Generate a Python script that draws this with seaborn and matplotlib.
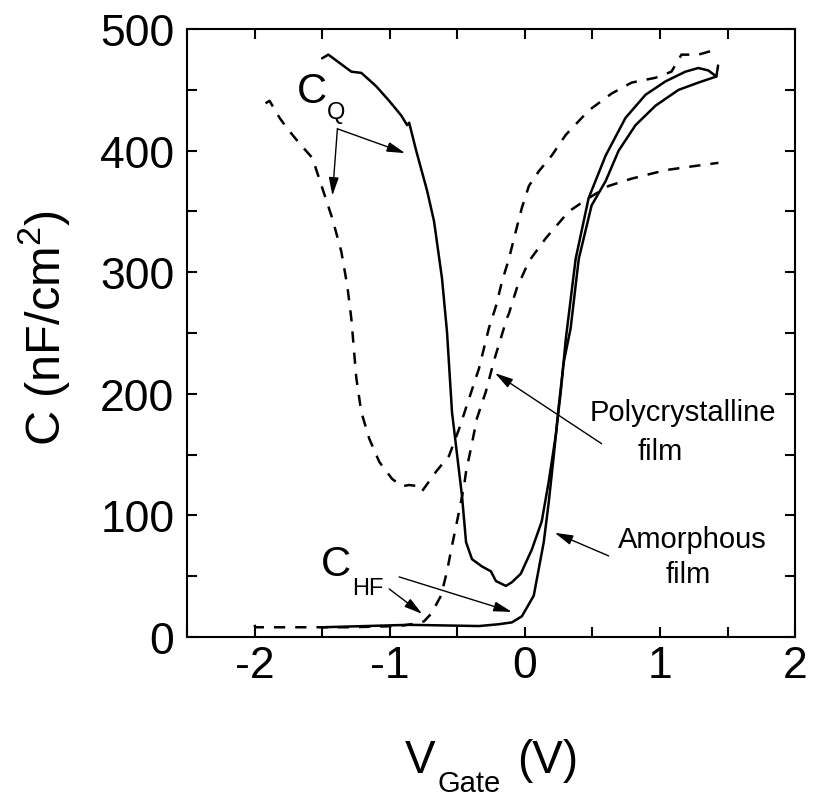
import matplotlib
matplotlib.use("Agg")
import matplotlib.pyplot as plt
from matplotlib.ticker import MultipleLocator
import pandas as pd
import seaborn as sns

# amorphous film, quasi-static C_Q (solid)
amor_q_v = [-1.50, -1.454, -1.284, -1.21, -1.10, -1.004, -0.915, -0.871, -0.856, -0.804,
            -0.723, -0.672, -0.613, -0.576, -0.539, -0.465, -0.435, -0.391, -0.317, -0.251,
            -0.214, -0.14, -0.096, -0.03, 0.052, 0.125, 0.177, 0.229, 0.266, 0.303,
            0.376, 0.472, 0.598, 0.745, 0.893, 1.041, 1.188, 1.284, 1.358, 1.417, 1.43]
amor_q_c = [476, 479, 465, 464, 453, 441, 429, 421, 423, 400,
            367, 342, 295, 251, 185, 116, 78, 64, 58, 54,
            46, 42, 45, 52, 72, 95, 128, 166, 202, 245,
            311, 361, 396, 427, 446, 457, 465, 468, 466, 461, 470]

# amorphous film, high-frequency C_HF (solid)
amor_hf_v = [-1.498, -0.856, -0.339, -0.192, -0.096, -0.022, 0.066, 0.103, 0.14, 0.177,
             0.214, 0.251, 0.288, 0.339, 0.399, 0.494, 0.598, 0.694, 0.819, 0.967,
             1.137, 1.284, 1.417]
amor_hf_c = [8, 10, 9, 10.5, 12, 17, 34, 56, 78, 111,
             149, 190, 226, 254, 311, 355, 375, 400, 421, 437,
             450, 456, 461]

# polycrystalline film, C_Q (dashed)
poly_q_v = [-1.919, -1.889, -1.815, -1.756, -1.668, -1.572, -1.498, -1.424, -1.358, -1.314,
            -1.284, -1.247, -1.21, -1.151, -1.077, -0.982, -0.908, -0.856, -0.782, -0.76,
            -0.657, -0.561, -0.487, -0.413, -0.339, -0.266, -0.214, -0.17, -0.118, -0.066,
            -0.022, 0.03, 0.103, 0.199, 0.303, 0.472, 0.642, 0.79, 0.967, 1.085,
            1.159, 1.284, 1.41]
poly_q_c = [439, 441, 427, 418, 406, 394, 369, 344, 317, 289,
            262, 213, 185, 163, 144, 130, 124, 125, 124, 120,
            136, 149, 171, 196, 221, 254, 272, 292, 311, 334,
            353, 371, 383, 396, 413, 433, 447, 456, 460, 465,
            479, 479, 483]

# polycrystalline film, C_HF (dashed)
poly_hf_v = [-2.0, -1.995, -1.668, -1.30, -0.93, -0.78, -0.745, -0.694, -0.62, -0.576,
             -0.539, -0.487, -0.45, -0.435, -0.399, -0.354, -0.288, -0.229, -0.133, -0.118,
             -0.059, 0.03, 0.155, 0.325, 0.472, 0.62, 0.79, 1.041, 1.232, 1.432]
poly_hf_c = [10, 8, 8, 8, 9, 11.5, 13, 19, 34, 54,
             75, 103, 124, 136, 155, 180, 202, 227, 262, 266,
             287, 309, 328, 350, 361, 371, 377, 384, 387, 390]

curves = [
    (amor_q_v, amor_q_c, "-"),
    (amor_hf_v, amor_hf_c, "-"),
    (poly_q_v, poly_q_c, (0, (4.5, 4))),
    (poly_hf_v, poly_hf_c, (0, (4.5, 4))),
]

sns.set_theme(style="ticks")
plt.rcParams["font.family"] = ["Liberation Sans", "DejaVu Sans"]
plt.rcParams["mathtext.fontset"] = "custom"
plt.rcParams["mathtext.rm"] = "Liberation Sans"
plt.rcParams["mathtext.it"] = "Liberation Sans"
plt.rcParams["axes.unicode_minus"] = False
for key in ["text.color", "axes.labelcolor", "xtick.color", "ytick.color", "axes.edgecolor"]:
    plt.rcParams[key] = "black"

fig = plt.figure(figsize=(8.13, 8.03), dpi=100)
ax = fig.add_axes([0.230, 0.2055, 0.748, 0.757])

for vv, cc, ls in curves:
    df = pd.DataFrame({"V": vv, "C": cc})
    sns.lineplot(data=df, x="V", y="C", sort=False, estimator=None, color="black",
                 linewidth=1.8, linestyle=ls, ax=ax)

ax.set_xlim(-2.5, 2)
ax.set_ylim(0, 500)
ax.xaxis.set_major_locator(MultipleLocator(1))
ax.xaxis.set_minor_locator(MultipleLocator(0.5))
ax.yaxis.set_major_locator(MultipleLocator(100))
ax.yaxis.set_minor_locator(MultipleLocator(50))
ax.tick_params(which="both", direction="in", top=True, right=True, length=7.5, width=1.5)
ax.tick_params(axis="x", labelsize=32, pad=6)
ax.tick_params(axis="y", labelsize=32, pad=9)
for sp in ax.spines.values():
    sp.set_linewidth(1.5)

# axis titles (x title built from pieces to get the low, small subscript)
ax.set_xlabel("")
ax.set_ylabel(r"C (nF/cm$^{2}$)", fontsize=35)
ax.yaxis.set_label_coords(-0.189, 0.51)
W, H = 813, 803
fig.text(405 / W, 1 - 773 / H, "V", fontsize=33, ha="left", va="baseline")
fig.text(437 / W, 1 - 792 / H, "Gate", fontsize=21, ha="left", va="baseline")
fig.text(517 / W, 1 - 773 / H, "(V)", fontsize=33, ha="left", va="baseline")

arrow = dict(arrowstyle="-|>,head_length=0.55,head_width=0.15", color="black", lw=1,
             mutation_scale=20, shrinkA=0, shrinkB=0)

# C_Q label and arrows
ax.text(-1.579, 449, "C", fontsize=30, ha="center", va="center")
ax.text(-1.395, 432, "Q", fontsize=17, ha="center", va="center")
ax.annotate("", xy=(-0.886, 398), xytext=(-1.387, 418), arrowprops=arrow)
ax.annotate("", xy=(-1.424, 363), xytext=(-1.387, 418), arrowprops=arrow)

# C_HF label and arrows
ax.text(-1.395, 60, "C", fontsize=30, ha="center", va="center")
ax.text(-1.159, 40.4, "HF", fontsize=17, ha="center", va="center")
ax.annotate("", xy=(-0.096, 20.6), xytext=(-0.93, 49.4), arrowprops=arrow)
ax.annotate("", xy=(-0.76, 19), xytext=(-1.004, 39.5), arrowprops=arrow)

# film labels
ax.text(1.166, 185, "Polycrystalline", fontsize=21, ha="center", va="center")
ax.text(1.0, 153, "film", fontsize=21, ha="center", va="center")
ax.annotate("", xy=(-0.221, 217), xytext=(0.568, 159), arrowprops=arrow)

ax.text(1.24, 80.7, "Amorphous", fontsize=21, ha="center", va="center")
ax.text(1.21, 52, "film", fontsize=21, ha="center", va="center")
ax.annotate("", xy=(0.221, 85.7), xytext=(0.62, 66.7), arrowprops=arrow)

fig.savefig("out.png", dpi=100)
